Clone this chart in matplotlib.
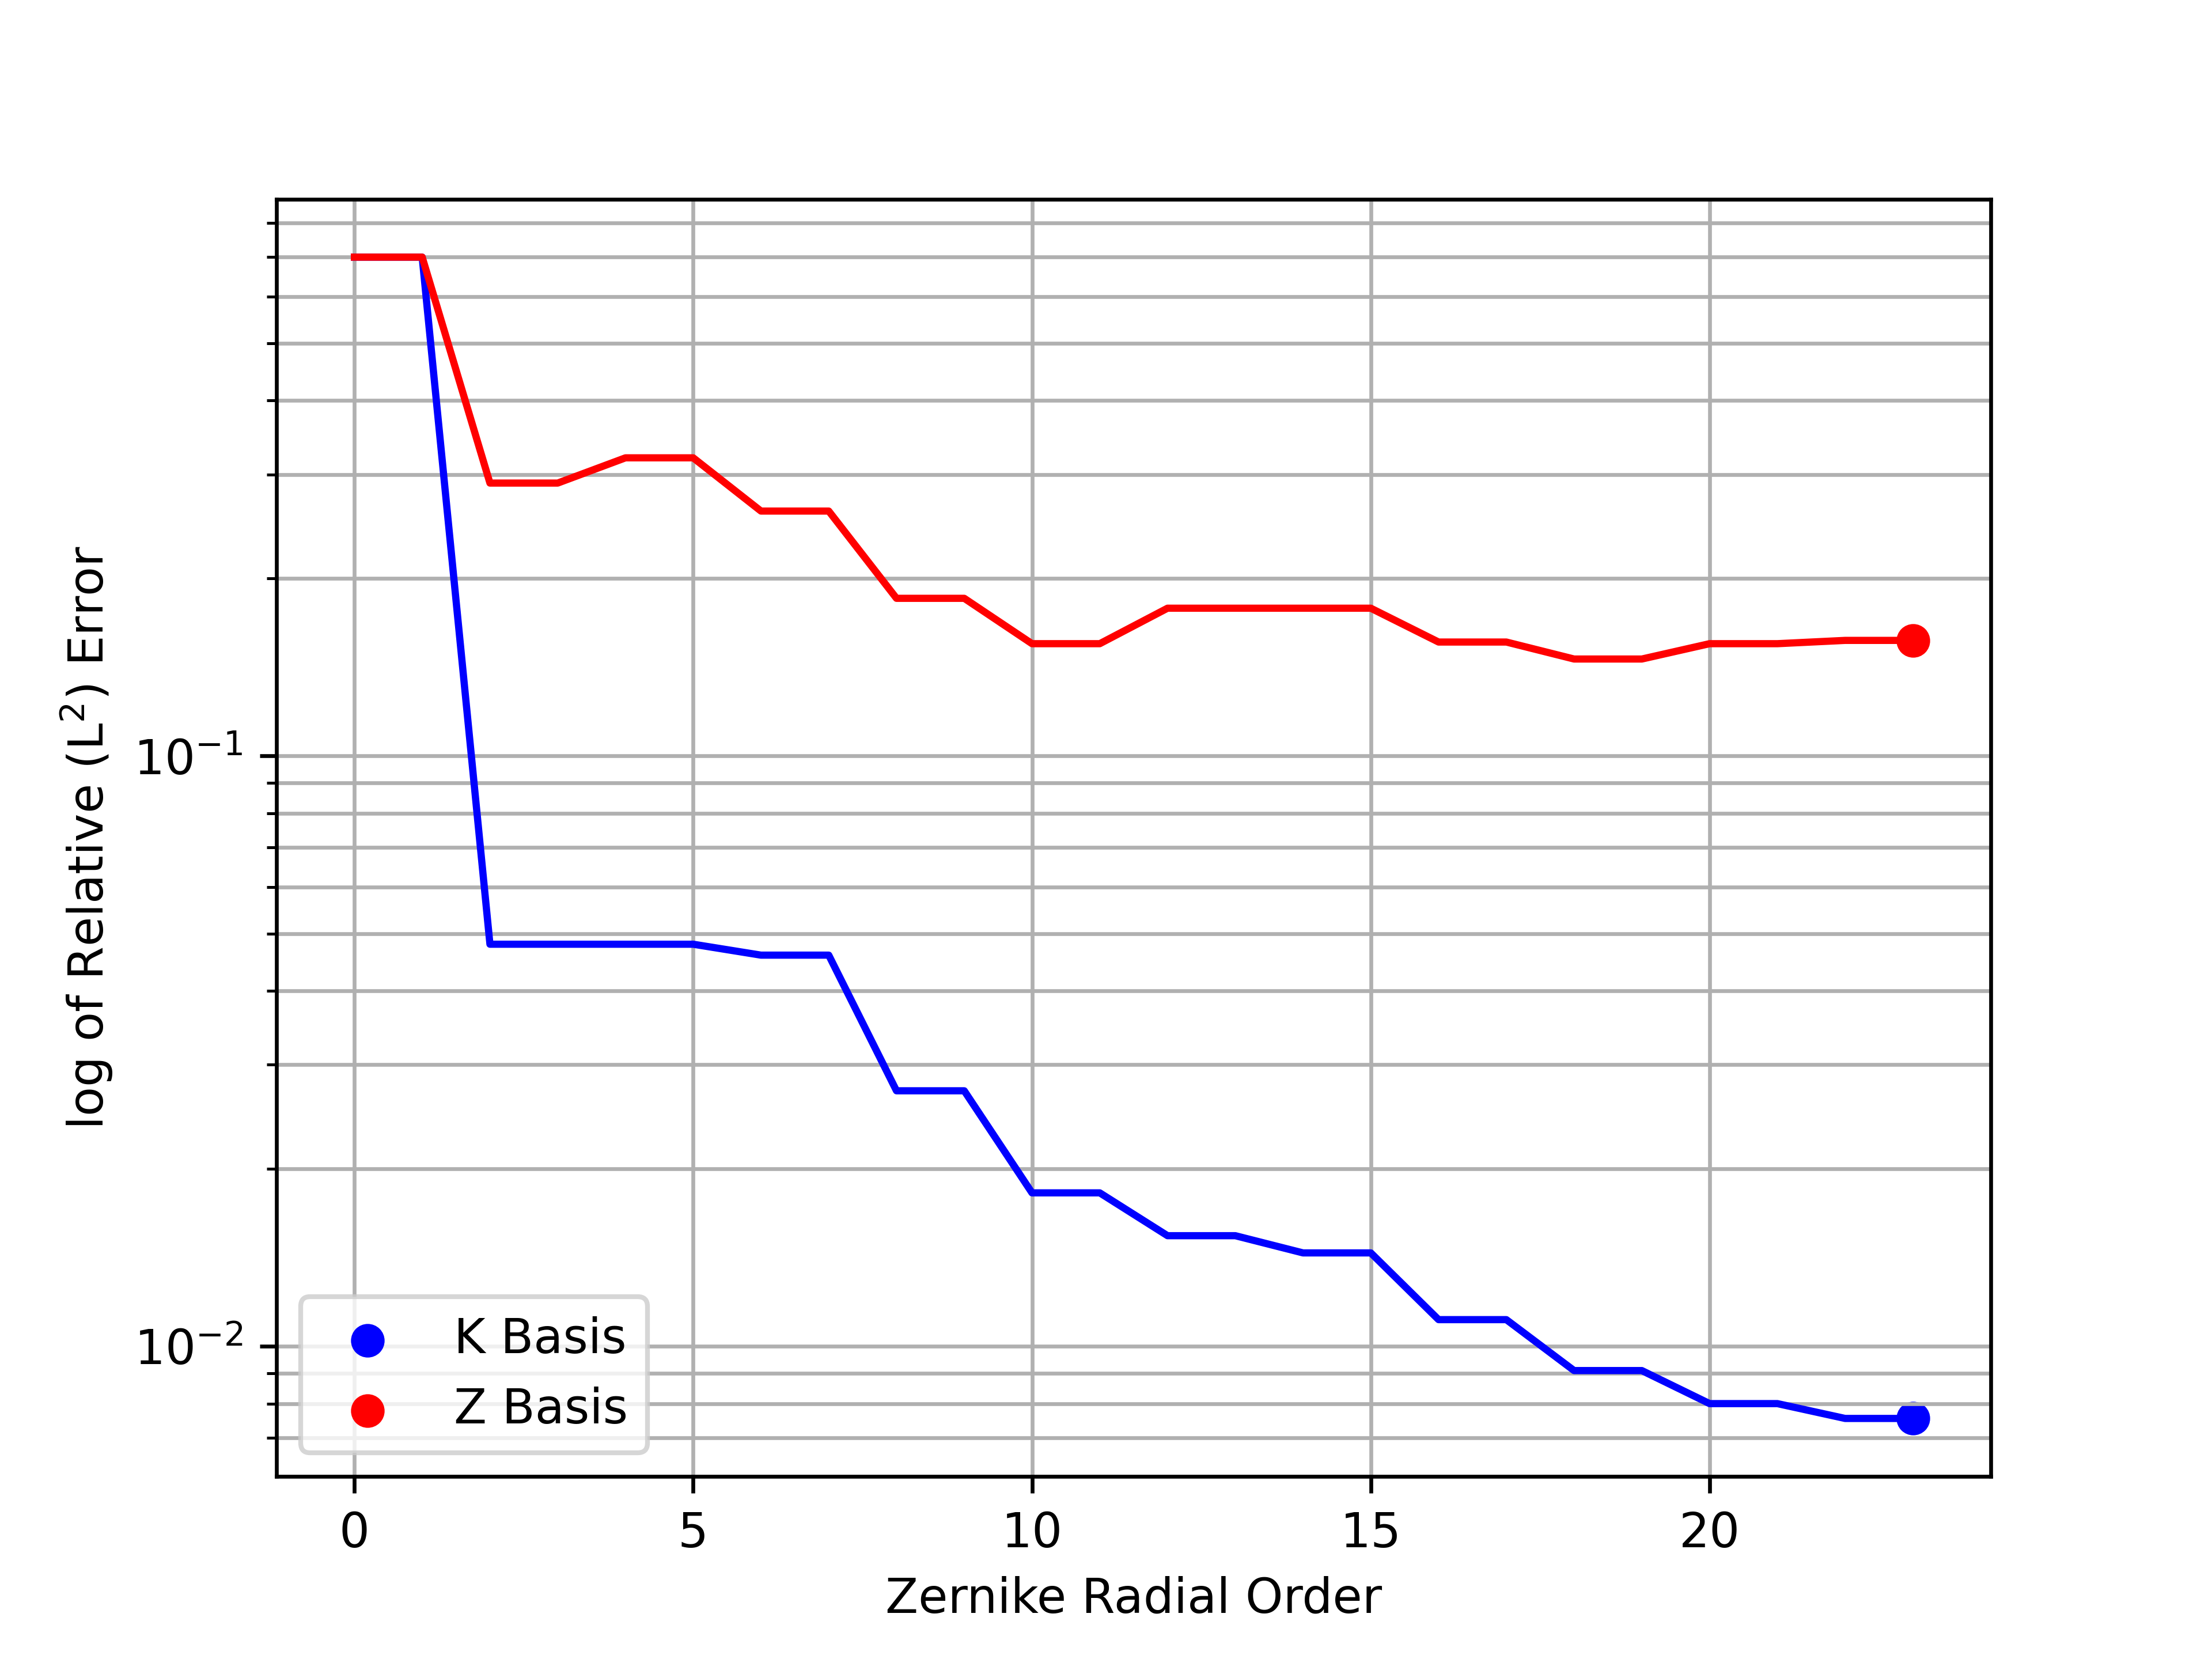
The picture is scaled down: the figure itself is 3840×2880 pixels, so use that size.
import matplotlib
matplotlib.use("Agg")
import matplotlib.pyplot as plt
import numpy as np

orders = np.arange(24)
k_err = [0.7, 0.7, 0.048, 0.048, 0.048, 0.048, 0.046, 0.046, 0.0271, 0.0271,
         0.0182, 0.0182, 0.0154, 0.0154, 0.0144, 0.0144, 0.0111, 0.0111,
         0.0091, 0.0091, 0.0080, 0.0080, 0.00755, 0.00755]
z_err = [0.7, 0.7, 0.29, 0.29, 0.32, 0.32, 0.26, 0.26, 0.185, 0.185,
         0.155, 0.155, 0.178, 0.178, 0.178, 0.178, 0.156, 0.156,
         0.146, 0.146, 0.155, 0.155, 0.157, 0.157]

fig, ax = plt.subplots(figsize=(6.4, 4.8))
ax.plot(orders, k_err, color="blue")
ax.plot(orders, z_err, color="red")
ax.scatter(orders[-1], k_err[-1], color="blue", label="K Basis")
ax.scatter(orders[-1], z_err[-1], color="red", label="Z Basis")
ax.set_yscale("log")
ax.grid(True, which="both")
ax.set_xlabel("Zernike Radial Order")
ax.set_ylabel(r"log of Relative (L$^2$) Error")
ax.legend(loc="lower left")
fig.savefig("out.png", dpi=600)
